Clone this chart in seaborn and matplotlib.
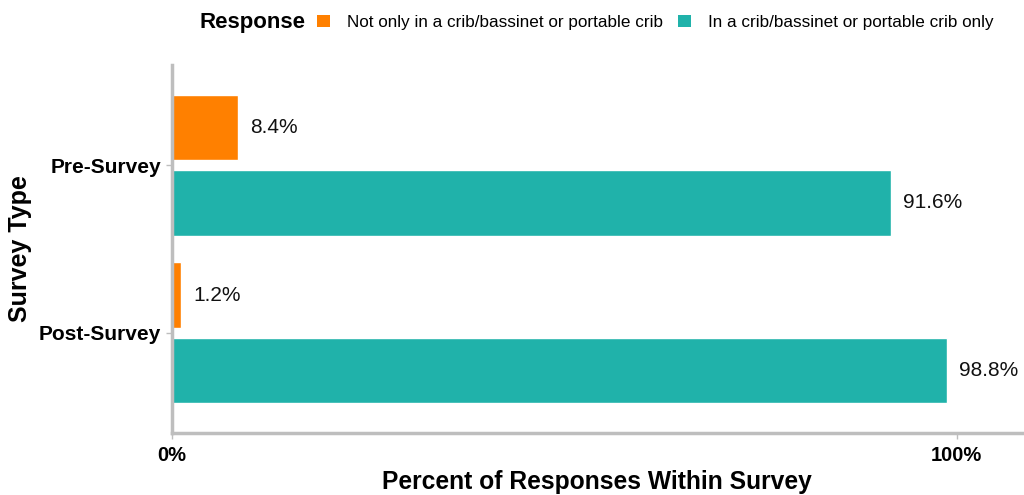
import matplotlib
matplotlib.use("Agg")
import matplotlib.pyplot as plt
import seaborn as sns
import pandas as pd
from matplotlib.patches import Patch

survey_types = ["Pre-Survey", "Post-Survey"]
responses = ["Not only in a crib/bassinet or portable crib",
             "In a crib/bassinet or portable crib only"]
pre_values = [8.4, 91.6]
post_values = [1.2, 98.8]
palette = ["#FF8000", "#20B2AA"]
x_ticks = [0, 100]
x_tick_labels = ["0%", "100%"]

df = pd.DataFrame({
    "Survey Type": [survey_types[0]] * 2 + [survey_types[1]] * 2,
    "Response": responses * 2,
    "Percent": pre_values + post_values,
})

sns.set_theme(style="white")
plt.rcParams["font.family"] = ["Liberation Sans", "DejaVu Sans"]
plt.rcParams.update({"text.color": "black", "axes.labelcolor": "black",
                     "xtick.labelcolor": "black", "ytick.labelcolor": "black"})

fig = plt.figure(figsize=(10.24, 4.95), dpi=100)
ax = fig.add_axes([0.168, 0.125, 0.830, 0.744])

sns.barplot(data=df, y="Survey Type", x="Percent", hue="Response",
            order=survey_types, hue_order=responses, palette=palette,
            orient="h", width=0.9, gap=0.133, saturation=1,
            legend=False, ax=ax)

for cont in ax.containers:
    ax.bar_label(cont, labels=[f"{v:.1f}%" for v in cont.datavalues],
                 padding=8.5, fontsize=15, color="#111111")

ax.set_xlim(0, 108.3)
ax.set_ylim(1.6, -0.6)
ax.set_xticks(x_ticks)
ax.set_xticklabels(x_tick_labels, fontsize=14.5, fontweight="bold")
ax.tick_params(axis="y", labelsize=15)
for t in ax.get_yticklabels():
    t.set_fontweight("bold")
ax.tick_params(axis="both", which="both", length=4, width=1,
               color="#BEBEBE", bottom=True, left=True)
ax.tick_params(axis="x", pad=5)
ax.tick_params(axis="y", pad=4)

ax.set_xlabel("Percent of Responses Within Survey", fontsize=17.7,
              fontweight="bold", labelpad=4)
ax.set_ylabel("Survey Type", fontsize=18, fontweight="bold", labelpad=5)

for side in ["top", "right"]:
    ax.spines[side].set_visible(False)
for side in ["left", "bottom"]:
    ax.spines[side].set_color("#BEBEBE")
    ax.spines[side].set_linewidth(2.5)

fig.text(0.195, 0.955, "Response", fontsize=16, fontweight="bold",
         va="center", ha="left")
handles = [Patch(facecolor=c, edgecolor="none") for c in palette]
fig.legend(handles, responses, loc="center left", bbox_to_anchor=(0.31, 0.955),
           ncol=2, frameon=False, fontsize=12.3, handlelength=0.75,
           handleheight=0.75, handletextpad=1.0, columnspacing=0.85,
           borderaxespad=0, borderpad=0)

fig.savefig("out.png", dpi=100, facecolor="white")
